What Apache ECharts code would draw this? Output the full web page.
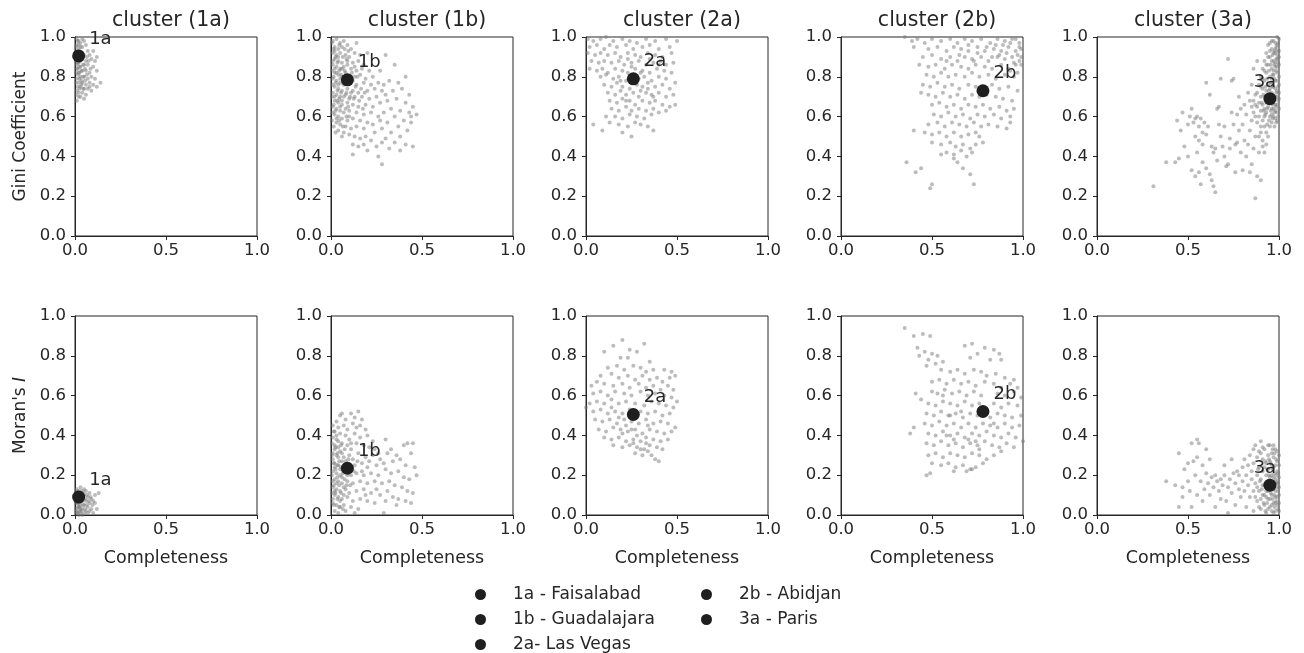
<!DOCTYPE html>
<html>
<head>
<meta charset="utf-8">
<script src="https://cdn.jsdelivr.net/npm/echarts@6/dist/echarts.min.js"></script>
<style>
  html, body { margin: 0; padding: 0; background: #fff; }
  #chart { width: 1304px; height: 653px; }
</style>
</head>
<body>
<div id="chart"></div>
<script>
// clusters and the highlighted city of each one
const clusters = ['1a', '1b', '2a', '2b', '3a']
const cityNames = ['1a - Faisalabad', '1b - Guadalajara', '2a- Las Vegas', '2b - Abidjan', '3a - Paris']
const cityCompleteness = [0.02, 0.09, 0.26, 0.78, 0.95]
const cityGini = [0.905, 0.785, 0.79, 0.73, 0.69]
const cityMoran = [0.09, 0.235, 0.505, 0.52, 0.15]

const xTicks = [0, 0.5, 1]
const yTicks = [0, 0.2, 0.4, 0.6, 0.8, 1]

// [completeness, gini] of the other cities in each cluster
const gini1a = [[0.01,0.99],[0.02,0.98],[0.03,0.97],[0.05,0.98],[0.01,0.96],[0.04,0.95],[0.06,0.96],[0.02,0.94],[0.07,0.93],[0.1,0.93],[0.03,0.92],[0.05,0.91],[0.08,0.91],[0.12,0.9],[0.01,0.9],[0.04,0.89],[0.06,0.88],[0.09,0.89],[0.11,0.88],[0.02,0.87],[0.05,0.86],[0.07,0.86],[0.1,0.85],[0.03,0.85],[0.01,0.84],[0.04,0.83],[0.06,0.83],[0.08,0.82],[0.12,0.83],[0.02,0.82],[0.03,0.8],[0.05,0.8],[0.07,0.79],[0.09,0.8],[0.11,0.79],[0.14,0.77],[0.01,0.79],[0.02,0.77],[0.04,0.77],[0.06,0.76],[0.08,0.77],[0.1,0.76],[0.12,0.75],[0.03,0.75],[0.05,0.74],[0.07,0.74],[0.09,0.73],[0.01,0.73],[0.02,0.72],[0.04,0.72],[0.06,0.71],[0.03,0.7],[0.05,0.69],[0.01,0.68],[0.02,0.7],[0.08,0.75],[0.01,0.86],[0.02,0.91],[0.03,0.88],[0.015,0.81],[0.025,0.79],[0.035,0.83],[0.045,0.86],[0.015,0.75],[0.025,0.74],[0.035,0.78],[0.01,0.93],[0.03,0.95],[0.02,0.96],[0.04,0.99],[0.005,0.95],[0.005,0.88],[0.005,0.82],[0.005,0.77],[0.005,0.71],[0.015,0.98],[0.015,0.87],[0.015,0.84],[0.025,0.85],[0.025,0.82],[0.035,0.91],[0.035,0.76],[0.045,0.8],[0.045,0.74],[0.055,0.78],[0.055,0.84],[0.065,0.81],[0.065,0.9],[0.075,0.88],[0.085,0.84]]
const gini1b = [[0.01,0.98],[0.03,0.99],[0.05,0.97],[0.07,0.98],[0.02,0.95],[0.04,0.94],[0.06,0.95],[0.09,0.96],[0.11,0.94],[0.14,0.97],[0.01,0.92],[0.03,0.91],[0.05,0.92],[0.08,0.91],[0.1,0.9],[0.13,0.92],[0.16,0.91],[0.2,0.92],[0.02,0.89],[0.04,0.88],[0.06,0.87],[0.09,0.88],[0.12,0.87],[0.15,0.88],[0.18,0.86],[0.01,0.86],[0.03,0.85],[0.05,0.84],[0.07,0.85],[0.11,0.84],[0.14,0.83],[0.17,0.84],[0.21,0.83],[0.02,0.82],[0.04,0.81],[0.06,0.8],[0.08,0.82],[0.13,0.8],[0.16,0.81],[0.19,0.79],[0.23,0.8],[0.01,0.79],[0.03,0.78],[0.05,0.77],[0.07,0.76],[0.11,0.77],[0.14,0.76],[0.18,0.77],[0.22,0.76],[0.26,0.77],[0.02,0.75],[0.04,0.74],[0.06,0.73],[0.09,0.74],[0.12,0.73],[0.15,0.72],[0.2,0.73],[0.24,0.74],[0.28,0.73],[0.01,0.72],[0.03,0.71],[0.05,0.7],[0.08,0.71],[0.1,0.69],[0.13,0.7],[0.17,0.7],[0.21,0.69],[0.25,0.7],[0.3,0.71],[0.02,0.68],[0.04,0.67],[0.06,0.66],[0.09,0.67],[0.12,0.66],[0.15,0.65],[0.19,0.66],[0.23,0.65],[0.27,0.67],[0.01,0.65],[0.03,0.64],[0.05,0.63],[0.07,0.62],[0.1,0.63],[0.14,0.62],[0.18,0.61],[0.22,0.62],[0.26,0.6],[0.02,0.61],[0.04,0.6],[0.06,0.59],[0.09,0.58],[0.12,0.59],[0.16,0.58],[0.2,0.57],[0.03,0.57],[0.05,0.56],[0.08,0.55],[0.11,0.54],[0.14,0.55],[0.18,0.54],[0.04,0.53],[0.07,0.52],[0.1,0.51],[0.13,0.5],[0.06,0.5],[0.16,0.49],[0.19,0.5],[0.22,0.48],[0.12,0.46],[0.15,0.45],[0.18,0.46],[0.12,0.41],[0.2,0.43],[0.26,0.4],[0.28,0.36],[0.25,0.45],[0.28,0.47],[0.3,0.91],[0.35,0.86],[0.41,0.8],[0.27,0.83],[0.32,0.78],[0.37,0.77],[0.29,0.76],[0.34,0.73],[0.39,0.74],[0.43,0.71],[0.31,0.68],[0.36,0.69],[0.41,0.67],[0.45,0.65],[0.47,0.61],[0.33,0.64],[0.38,0.63],[0.43,0.62],[0.29,0.62],[0.35,0.6],[0.4,0.58],[0.44,0.57],[0.31,0.57],[0.37,0.55],[0.42,0.53],[0.28,0.54],[0.33,0.52],[0.38,0.5],[0.3,0.49],[0.35,0.47],[0.41,0.46],[0.45,0.45],[0.24,0.52],[0.27,0.58],[0.23,0.56],[0.32,0.44],[0.38,0.43],[0.44,0.6],[0.01,0.88],[0.02,0.84],[0.01,0.76],[0.02,0.7],[0.01,0.62],[0.03,0.59],[0.02,0.93],[0.04,0.9],[0.03,0.82],[0.05,0.79],[0.04,0.76],[0.06,0.84],[0.07,0.8],[0.08,0.78],[0.07,0.7],[0.06,0.68],[0.05,0.65],[0.08,0.64],[0.1,0.6],[0.09,0.86],[0.1,0.8],[0.11,0.72],[0.12,0.78],[0.13,0.85],[0.005,0.97],[0.015,0.94],[0.025,0.9],[0.035,0.87],[0.045,0.83],[0.055,0.81],[0.015,0.8],[0.025,0.77],[0.035,0.73],[0.045,0.69],[0.015,0.66],[0.025,0.63],[0.035,0.68],[0.055,0.72],[0.065,0.77],[0.075,0.83],[0.085,0.89],[0.095,0.93],[0.065,0.9],[0.075,0.94],[0.045,0.96],[0.085,0.72],[0.095,0.65],[0.105,0.7],[0.115,0.82],[0.125,0.69],[0.135,0.75],[0.145,0.8],[0.155,0.68],[0.165,0.74],[0.175,0.64],[0.185,0.72],[0.005,0.83],[0.005,0.7],[0.005,0.58],[0.015,0.55],[0.025,0.52],[0.045,0.58],[0.065,0.55],[0.085,0.6]]
const gini2a = [[0.01,0.99],[0.04,0.98],[0.08,0.99],[0.11,1.0],[0.15,0.98],[0.2,0.99],[0.24,0.98],[0.28,0.97],[0.33,0.99],[0.38,0.98],[0.44,0.99],[0.5,0.98],[0.02,0.95],[0.06,0.96],[0.1,0.94],[0.13,0.96],[0.17,0.95],[0.22,0.96],[0.26,0.94],[0.31,0.95],[0.35,0.96],[0.4,0.94],[0.46,0.95],[0.01,0.92],[0.05,0.91],[0.08,0.92],[0.12,0.91],[0.16,0.92],[0.19,0.9],[0.23,0.92],[0.27,0.91],[0.3,0.9],[0.34,0.92],[0.38,0.91],[0.42,0.9],[0.47,0.92],[0.03,0.88],[0.07,0.87],[0.1,0.88],[0.14,0.87],[0.18,0.88],[0.21,0.86],[0.25,0.87],[0.29,0.88],[0.33,0.86],[0.37,0.87],[0.41,0.88],[0.44,0.86],[0.48,0.87],[0.02,0.84],[0.06,0.83],[0.09,0.84],[0.12,0.82],[0.16,0.84],[0.2,0.83],[0.23,0.82],[0.27,0.84],[0.31,0.83],[0.35,0.82],[0.39,0.84],[0.43,0.83],[0.47,0.82],[0.08,0.8],[0.11,0.81],[0.15,0.79],[0.18,0.8],[0.22,0.78],[0.29,0.79],[0.32,0.8],[0.36,0.78],[0.4,0.8],[0.44,0.79],[0.49,0.77],[0.1,0.76],[0.14,0.75],[0.17,0.77],[0.2,0.75],[0.24,0.74],[0.28,0.76],[0.31,0.75],[0.34,0.77],[0.38,0.75],[0.42,0.76],[0.46,0.74],[0.12,0.72],[0.16,0.71],[0.19,0.73],[0.22,0.71],[0.26,0.72],[0.29,0.7],[0.33,0.72],[0.36,0.71],[0.4,0.72],[0.44,0.7],[0.48,0.71],[0.13,0.68],[0.17,0.67],[0.2,0.69],[0.24,0.68],[0.27,0.66],[0.31,0.68],[0.35,0.67],[0.38,0.68],[0.42,0.66],[0.46,0.65],[0.49,0.66],[0.14,0.64],[0.18,0.63],[0.22,0.65],[0.25,0.63],[0.29,0.64],[0.33,0.63],[0.37,0.64],[0.4,0.62],[0.44,0.63],[0.16,0.6],[0.2,0.59],[0.24,0.61],[0.28,0.6],[0.32,0.59],[0.36,0.61],[0.11,0.6],[0.04,0.56],[0.09,0.53],[0.13,0.57],[0.18,0.56],[0.2,0.52],[0.23,0.55],[0.25,0.5],[0.27,0.57],[0.3,0.56],[0.34,0.55],[0.37,0.53],[0.25,0.85],[0.3,0.82],[0.34,0.74],[0.37,0.7],[0.22,0.68],[0.19,0.78],[0.26,0.8],[0.3,0.73],[0.35,0.89],[0.4,0.86],[0.23,0.89],[0.27,0.78]]
const gini2b = [[0.35,1.0],[0.39,0.98],[0.42,0.99],[0.46,0.97],[0.5,0.99],[0.55,0.98],[0.6,0.99],[0.64,0.97],[0.68,0.99],[0.72,0.98],[0.77,0.99],[0.82,0.97],[0.86,0.99],[0.9,0.98],[0.94,0.99],[0.98,0.97],[0.4,0.95],[0.48,0.94],[0.53,0.95],[0.58,0.93],[0.62,0.95],[0.66,0.94],[0.7,0.93],[0.75,0.95],[0.79,0.93],[0.84,0.94],[0.88,0.93],[0.92,0.95],[0.96,0.93],[0.99,0.94],[0.45,0.9],[0.5,0.91],[0.55,0.89],[0.6,0.9],[0.64,0.88],[0.68,0.9],[0.72,0.89],[0.77,0.9],[0.81,0.88],[0.86,0.9],[0.9,0.89],[0.94,0.9],[0.98,0.88],[0.43,0.86],[0.48,0.85],[0.52,0.86],[0.57,0.84],[0.61,0.86],[0.66,0.85],[0.7,0.84],[0.74,0.86],[0.79,0.85],[0.83,0.84],[0.88,0.86],[0.92,0.84],[0.96,0.86],[0.47,0.81],[0.51,0.8],[0.55,0.82],[0.59,0.8],[0.63,0.81],[0.68,0.8],[0.72,0.82],[0.76,0.8],[0.81,0.81],[0.85,0.79],[0.9,0.81],[0.95,0.8],[0.45,0.76],[0.49,0.75],[0.53,0.77],[0.57,0.75],[0.61,0.76],[0.65,0.74],[0.7,0.76],[0.74,0.75],[0.83,0.76],[0.87,0.74],[0.92,0.75],[0.97,0.73],[0.44,0.72],[0.48,0.71],[0.52,0.7],[0.56,0.72],[0.6,0.7],[0.64,0.71],[0.68,0.69],[0.72,0.71],[0.76,0.7],[0.8,0.71],[0.85,0.7],[0.89,0.69],[0.94,0.68],[0.5,0.66],[0.54,0.67],[0.58,0.65],[0.62,0.66],[0.66,0.64],[0.7,0.66],[0.74,0.65],[0.78,0.66],[0.82,0.64],[0.87,0.65],[0.91,0.63],[0.95,0.64],[0.51,0.61],[0.55,0.6],[0.59,0.62],[0.63,0.6],[0.67,0.61],[0.71,0.59],[0.75,0.61],[0.79,0.6],[0.84,0.61],[0.88,0.59],[0.93,0.6],[0.48,0.56],[0.53,0.57],[0.57,0.55],[0.61,0.57],[0.65,0.56],[0.69,0.55],[0.73,0.57],[0.77,0.55],[0.81,0.56],[0.86,0.55],[0.91,0.54],[0.93,0.57],[0.46,0.52],[0.5,0.51],[0.54,0.52],[0.58,0.5],[0.62,0.52],[0.66,0.5],[0.7,0.51],[0.74,0.52],[0.76,0.5],[0.4,0.53],[0.5,0.47],[0.55,0.46],[0.6,0.47],[0.63,0.45],[0.67,0.46],[0.71,0.44],[0.74,0.46],[0.58,0.42],[0.62,0.41],[0.66,0.43],[0.69,0.4],[0.72,0.42],[0.78,0.47],[0.36,0.37],[0.41,0.32],[0.44,0.34],[0.49,0.24],[0.5,0.26],[0.62,0.39],[0.67,0.34],[0.71,0.31],[0.73,0.26],[0.55,0.41],[0.64,0.37],[0.96,0.99],[0.98,0.95],[0.97,0.91],[0.99,0.9],[0.93,0.97],[0.91,0.92],[0.89,0.96],[0.87,0.91],[0.95,0.87],[0.99,0.86],[0.93,0.83],[0.97,0.82],[0.85,0.96],[0.8,0.95],[0.83,0.9],[0.75,0.92],[0.7,0.96],[0.73,0.88],[0.65,0.91],[0.58,0.88]]
const gini3a = [[0.31,0.25],[0.38,0.37],[0.43,0.37],[0.45,0.39],[0.44,0.58],[0.46,0.53],[0.48,0.45],[0.5,0.4],[0.51,0.6],[0.52,0.64],[0.53,0.57],[0.54,0.59],[0.55,0.6],[0.56,0.55],[0.57,0.59],[0.58,0.52],[0.59,0.57],[0.6,0.51],[0.61,0.55],[0.54,0.5],[0.56,0.48],[0.52,0.33],[0.54,0.3],[0.56,0.32],[0.58,0.37],[0.6,0.34],[0.62,0.31],[0.63,0.28],[0.64,0.25],[0.65,0.22],[0.57,0.26],[0.6,0.77],[0.62,0.71],[0.63,0.45],[0.64,0.42],[0.65,0.44],[0.66,0.38],[0.66,0.64],[0.67,0.65],[0.68,0.5],[0.7,0.55],[0.7,0.4],[0.71,0.35],[0.72,0.36],[0.73,0.44],[0.74,0.62],[0.74,0.78],[0.75,0.79],[0.76,0.46],[0.76,0.32],[0.77,0.47],[0.78,0.53],[0.78,0.7],[0.79,0.42],[0.8,0.56],[0.8,0.33],[0.81,0.48],[0.82,0.61],[0.82,0.4],[0.83,0.46],[0.84,0.32],[0.84,0.53],[0.85,0.58],[0.85,0.36],[0.86,0.44],[0.87,0.19],[0.87,0.5],[0.88,0.3],[0.88,0.65],[0.89,0.42],[0.9,0.55],[0.9,0.28],[0.91,0.48],[0.92,0.6],[0.72,0.89],[0.68,0.79],[0.55,0.42],[0.5,0.56],[0.47,0.62],[0.58,0.46],[0.67,0.56],[0.69,0.45],[0.73,0.49],[0.75,0.56],[0.77,0.61],[0.79,0.64],[0.81,0.66],[0.83,0.72],[0.85,0.76],[0.86,0.84],[0.84,0.68],[0.87,0.71],[0.88,0.88],[0.89,0.6],[0.9,0.63],[0.91,0.66],[0.92,0.7],[0.93,0.73],[0.94,0.76],[0.95,0.8],[0.96,0.84],[0.97,0.88],[0.98,0.92],[0.99,0.96],[1.0,0.99],[0.9,0.7],[0.91,0.74],[0.92,0.78],[0.93,0.82],[0.94,0.86],[0.95,0.9],[0.96,0.94],[0.97,0.98],[0.88,0.72],[0.89,0.76],[0.9,0.8],[0.91,0.84],[0.92,0.88],[0.93,0.92],[0.94,0.96],[0.93,0.62],[0.94,0.65],[0.95,0.68],[0.96,0.72],[0.97,0.75],[0.98,0.78],[0.99,0.82],[1.0,0.86],[0.95,0.6],[0.96,0.64],[0.97,0.67],[0.98,0.7],[0.99,0.73],[1.0,0.76],[0.97,0.6],[0.98,0.63],[0.99,0.66],[1.0,0.69],[0.96,0.77],[0.97,0.81],[0.98,0.85],[0.99,0.89],[1.0,0.93],[0.98,0.97],[0.99,1.0],[0.96,0.98],[0.95,0.97],[0.94,0.7],[0.95,0.74],[0.96,0.79],[0.97,0.83],[0.98,0.87],[0.99,0.91],[1.0,0.8],[0.99,0.78],[0.92,0.64],[0.93,0.67],[0.91,0.58],[0.92,0.55],[0.93,0.52],[0.94,0.5],[0.95,0.55],[0.96,0.57],[0.9,0.52],[0.89,0.5],[0.91,0.45],[0.92,0.42],[0.93,0.46],[0.87,0.6],[0.86,0.62],[0.88,0.57],[0.85,0.65],[0.86,0.68],[0.87,0.66],[0.89,0.67],[0.9,0.75],[0.91,0.79],[0.92,0.83],[0.93,0.86],[0.94,0.9],[0.95,0.93],[0.97,0.92],[0.98,0.94],[0.99,0.85],[1.0,0.9],[0.96,0.88],[0.97,0.7],[0.98,0.74],[0.99,0.7],[1.0,0.72],[0.98,0.66],[0.99,0.62],[1.0,0.64],[0.97,0.64],[0.98,0.59],[0.99,0.58],[0.96,0.61],[0.995,0.97],[0.985,0.95],[0.975,0.93],[0.965,0.91],[0.955,0.86],[0.945,0.83],[0.935,0.79],[0.925,0.75],[0.915,0.71],[0.905,0.67],[0.995,0.87],[0.985,0.83],[0.975,0.79],[0.965,0.75],[0.955,0.71],[0.945,0.67],[0.935,0.64],[0.995,0.75],[0.985,0.72],[0.975,0.69],[0.965,0.66],[0.955,0.63],[0.995,0.68],[0.985,0.65],[0.975,0.62],[0.965,0.59],[0.995,0.6],[0.985,0.57],[0.975,0.55],[0.945,0.58],[0.935,0.56],[0.925,0.61],[0.915,0.63],[0.995,0.93],[0.985,0.89],[0.975,0.86],[0.965,0.81],[0.955,0.77],[0.945,0.73],[0.935,0.7]]

// [completeness, moran's I] of the other cities in each cluster
const moran1a = [[0.01,0.13],[0.03,0.14],[0.05,0.13],[0.02,0.12],[0.04,0.11],[0.06,0.12],[0.08,0.11],[0.11,0.1],[0.13,0.11],[0.01,0.1],[0.03,0.09],[0.05,0.1],[0.07,0.09],[0.09,0.08],[0.02,0.08],[0.04,0.07],[0.06,0.07],[0.08,0.06],[0.1,0.07],[0.01,0.06],[0.03,0.05],[0.05,0.05],[0.07,0.04],[0.09,0.03],[0.12,0.03],[0.02,0.04],[0.04,0.03],[0.06,0.02],[0.08,0.02],[0.1,0.01],[0.01,0.02],[0.03,0.01],[0.05,0.01],[0.07,0.01],[0.02,0.0],[0.04,0.0],[0.01,0.08],[0.02,0.06],[0.03,0.03],[0.015,0.11],[0.025,0.1],[0.035,0.07],[0.045,0.05],[0.015,0.04],[0.025,0.02],[0.035,0.12],[0.055,0.08],[0.065,0.05],[0.11,0.06],[0.01,0.01],[0.005,0.12],[0.005,0.07],[0.005,0.03],[0.015,0.09],[0.015,0.06],[0.015,0.01],[0.025,0.07],[0.025,0.04],[0.035,0.1],[0.035,0.02],[0.045,0.08],[0.045,0.11],[0.055,0.03],[0.065,0.1],[0.075,0.07],[0.085,0.09],[0.095,0.05]]
const moran1b = [[0.01,0.45],[0.03,0.47],[0.05,0.5],[0.06,0.51],[0.08,0.48],[0.11,0.51],[0.13,0.49],[0.15,0.52],[0.17,0.48],[0.02,0.42],[0.04,0.44],[0.07,0.45],[0.09,0.43],[0.12,0.46],[0.14,0.44],[0.16,0.45],[0.19,0.43],[0.01,0.39],[0.03,0.38],[0.05,0.41],[0.08,0.4],[0.1,0.38],[0.13,0.41],[0.16,0.39],[0.2,0.4],[0.02,0.35],[0.04,0.34],[0.06,0.36],[0.09,0.35],[0.11,0.33],[0.14,0.36],[0.18,0.35],[0.21,0.34],[0.24,0.33],[0.01,0.31],[0.03,0.3],[0.05,0.32],[0.07,0.29],[0.1,0.3],[0.12,0.28],[0.15,0.31],[0.19,0.29],[0.23,0.3],[0.27,0.28],[0.02,0.26],[0.04,0.25],[0.06,0.27],[0.08,0.24],[0.13,0.25],[0.17,0.26],[0.2,0.24],[0.25,0.25],[0.29,0.26],[0.01,0.22],[0.03,0.21],[0.05,0.2],[0.07,0.22],[0.11,0.2],[0.14,0.21],[0.18,0.2],[0.22,0.21],[0.26,0.2],[0.02,0.18],[0.04,0.17],[0.06,0.16],[0.09,0.17],[0.12,0.16],[0.16,0.17],[0.2,0.16],[0.24,0.17],[0.28,0.16],[0.01,0.14],[0.03,0.13],[0.05,0.12],[0.08,0.13],[0.1,0.11],[0.14,0.12],[0.18,0.13],[0.22,0.11],[0.02,0.1],[0.04,0.09],[0.06,0.08],[0.09,0.09],[0.12,0.07],[0.16,0.08],[0.2,0.07],[0.01,0.06],[0.03,0.05],[0.05,0.04],[0.07,0.05],[0.11,0.04],[0.15,0.03],[0.02,0.02],[0.04,0.01],[0.08,0.02],[0.13,0.01],[0.29,0.01],[0.01,0.28],[0.02,0.24],[0.01,0.17],[0.02,0.12],[0.01,0.08],[0.03,0.16],[0.04,0.29],[0.05,0.23],[0.06,0.19],[0.07,0.14],[0.03,0.4],[0.02,0.33],[0.04,0.37],[0.06,0.31],[0.08,0.27],[0.09,0.2],[0.1,0.25],[0.11,0.36],[0.07,0.1],[0.05,0.07],[0.3,0.38],[0.33,0.33],[0.36,0.3],[0.4,0.35],[0.42,0.36],[0.45,0.36],[0.44,0.31],[0.31,0.31],[0.34,0.27],[0.38,0.28],[0.41,0.25],[0.46,0.24],[0.47,0.2],[0.3,0.23],[0.33,0.21],[0.37,0.22],[0.4,0.19],[0.43,0.18],[0.32,0.17],[0.35,0.15],[0.39,0.14],[0.42,0.12],[0.45,0.11],[0.31,0.12],[0.34,0.09],[0.37,0.08],[0.41,0.07],[0.44,0.06],[0.3,0.07],[0.25,0.13],[0.27,0.1],[0.24,0.06],[0.36,0.05],[0.21,0.27],[0.26,0.31],[0.23,0.37],[0.17,0.22],[0.19,0.1],[0.005,0.3],[0.015,0.26],[0.025,0.23],[0.035,0.19],[0.045,0.15],[0.055,0.11],[0.005,0.2],[0.015,0.15],[0.025,0.11],[0.035,0.08],[0.045,0.04],[0.005,0.11],[0.015,0.05],[0.025,0.34],[0.035,0.31],[0.045,0.27],[0.055,0.24],[0.065,0.21],[0.075,0.18],[0.085,0.15],[0.005,0.36],[0.015,0.42],[0.035,0.25],[0.055,0.35],[0.075,0.33],[0.095,0.28],[0.105,0.15],[0.125,0.22],[0.145,0.27],[0.065,0.03]]
const moran2a = [[0.2,0.88],[0.32,0.86],[0.15,0.85],[0.1,0.82],[0.24,0.83],[0.28,0.82],[0.19,0.79],[0.23,0.79],[0.35,0.77],[0.12,0.74],[0.17,0.75],[0.21,0.73],[0.26,0.75],[0.3,0.74],[0.33,0.72],[0.37,0.73],[0.43,0.73],[0.47,0.72],[0.08,0.7],[0.14,0.71],[0.18,0.69],[0.23,0.7],[0.27,0.68],[0.31,0.7],[0.35,0.68],[0.39,0.69],[0.42,0.67],[0.46,0.69],[0.49,0.7],[0.03,0.65],[0.06,0.67],[0.1,0.66],[0.15,0.65],[0.2,0.66],[0.24,0.64],[0.29,0.66],[0.33,0.64],[0.37,0.65],[0.41,0.63],[0.45,0.65],[0.48,0.63],[0.04,0.61],[0.08,0.62],[0.12,0.6],[0.16,0.62],[0.21,0.61],[0.25,0.6],[0.3,0.62],[0.34,0.6],[0.38,0.61],[0.43,0.6],[0.47,0.59],[0.5,0.57],[0.02,0.56],[0.06,0.57],[0.1,0.56],[0.14,0.58],[0.18,0.56],[0.22,0.57],[0.27,0.56],[0.32,0.55],[0.36,0.57],[0.4,0.56],[0.44,0.55],[0.48,0.54],[0.0,0.54],[0.04,0.52],[0.08,0.53],[0.12,0.51],[0.16,0.52],[0.2,0.51],[0.3,0.52],[0.34,0.51],[0.38,0.52],[0.42,0.5],[0.46,0.51],[0.05,0.48],[0.09,0.47],[0.13,0.48],[0.17,0.46],[0.21,0.48],[0.25,0.47],[0.29,0.46],[0.33,0.48],[0.37,0.46],[0.41,0.47],[0.45,0.46],[0.49,0.44],[0.07,0.43],[0.11,0.42],[0.15,0.44],[0.19,0.43],[0.23,0.42],[0.27,0.43],[0.31,0.41],[0.35,0.43],[0.39,0.42],[0.43,0.41],[0.47,0.42],[0.1,0.39],[0.14,0.38],[0.18,0.39],[0.22,0.37],[0.26,0.38],[0.3,0.37],[0.33,0.39],[0.37,0.38],[0.41,0.37],[0.45,0.38],[0.15,0.35],[0.2,0.34],[0.24,0.35],[0.28,0.34],[0.32,0.33],[0.35,0.35],[0.39,0.34],[0.42,0.33],[0.27,0.31],[0.31,0.3],[0.34,0.32],[0.36,0.3],[0.4,0.27],[0.38,0.28],[0.3,0.33],[0.25,0.43],[0.28,0.4],[0.22,0.45],[0.2,0.41],[0.26,0.36],[0.33,0.36],[0.18,0.49],[0.24,0.53],[0.14,0.54],[0.34,0.45]]
const moran2b = [[0.35,0.94],[0.4,0.9],[0.45,0.91],[0.49,0.9],[0.42,0.84],[0.46,0.82],[0.5,0.81],[0.43,0.8],[0.48,0.78],[0.53,0.8],[0.56,0.77],[0.47,0.75],[0.52,0.76],[0.72,0.86],[0.68,0.85],[0.79,0.84],[0.84,0.83],[0.87,0.81],[0.88,0.78],[0.75,0.81],[0.71,0.79],[0.82,0.78],[0.55,0.73],[0.6,0.72],[0.64,0.73],[0.68,0.71],[0.73,0.73],[0.77,0.72],[0.8,0.7],[0.85,0.71],[0.9,0.69],[0.95,0.68],[0.5,0.67],[0.54,0.68],[0.58,0.66],[0.62,0.68],[0.66,0.66],[0.7,0.67],[0.74,0.65],[0.79,0.67],[0.84,0.66],[0.88,0.64],[0.93,0.66],[0.97,0.64],[0.41,0.61],[0.44,0.58],[0.5,0.62],[0.53,0.61],[0.57,0.63],[0.61,0.61],[0.65,0.62],[0.69,0.6],[0.73,0.62],[0.77,0.6],[0.86,0.61],[0.9,0.6],[0.95,0.62],[0.99,0.59],[0.48,0.56],[0.52,0.55],[0.56,0.57],[0.6,0.56],[0.64,0.55],[0.68,0.57],[0.72,0.55],[0.76,0.56],[0.84,0.56],[0.88,0.54],[0.92,0.56],[0.97,0.55],[0.47,0.51],[0.51,0.5],[0.55,0.52],[0.59,0.5],[0.63,0.51],[0.67,0.49],[0.71,0.51],[0.75,0.5],[0.82,0.49],[0.86,0.51],[0.9,0.5],[0.94,0.49],[0.99,0.5],[0.46,0.46],[0.5,0.45],[0.54,0.47],[0.58,0.45],[0.62,0.46],[0.66,0.44],[0.7,0.46],[0.74,0.44],[0.78,0.46],[0.82,0.45],[0.86,0.44],[0.9,0.46],[0.94,0.44],[0.98,0.45],[0.38,0.41],[0.4,0.44],[0.48,0.41],[0.52,0.4],[0.56,0.42],[0.6,0.4],[0.64,0.41],[0.68,0.39],[0.72,0.41],[0.76,0.4],[0.8,0.42],[0.84,0.4],[0.88,0.39],[0.92,0.41],[0.96,0.39],[1.0,0.37],[0.47,0.36],[0.51,0.35],[0.55,0.37],[0.59,0.35],[0.63,0.36],[0.67,0.34],[0.71,0.36],[0.75,0.35],[0.79,0.37],[0.83,0.35],[0.87,0.34],[0.91,0.36],[0.95,0.34],[0.48,0.3],[0.52,0.31],[0.56,0.29],[0.6,0.31],[0.64,0.3],[0.68,0.29],[0.72,0.31],[0.76,0.3],[0.8,0.28],[0.84,0.3],[0.88,0.32],[0.5,0.26],[0.55,0.25],[0.59,0.26],[0.63,0.24],[0.67,0.25],[0.71,0.23],[0.74,0.24],[0.78,0.26],[0.47,0.2],[0.49,0.21],[0.62,0.22],[0.69,0.22],[0.72,0.23],[0.6,0.5],[0.58,0.4],[0.62,0.38],[0.7,0.38],[0.74,0.37],[0.76,0.33],[0.66,0.52],[0.56,0.6],[0.8,0.52],[0.84,0.46]]
const moran3a = [[0.38,0.17],[0.43,0.15],[0.45,0.31],[0.45,0.04],[0.47,0.09],[0.47,0.14],[0.48,0.23],[0.5,0.17],[0.5,0.26],[0.51,0.12],[0.52,0.36],[0.52,0.04],[0.53,0.27],[0.54,0.2],[0.55,0.38],[0.55,0.29],[0.55,0.1],[0.56,0.36],[0.57,0.17],[0.58,0.25],[0.58,0.07],[0.59,0.13],[0.6,0.33],[0.6,0.21],[0.61,0.16],[0.62,0.28],[0.62,0.1],[0.63,0.19],[0.64,0.14],[0.65,0.04],[0.65,0.2],[0.66,0.17],[0.67,0.12],[0.68,0.18],[0.68,0.08],[0.69,0.15],[0.7,0.2],[0.7,0.25],[0.71,0.07],[0.72,0.14],[0.72,0.01],[0.73,0.18],[0.74,0.28],[0.74,0.11],[0.75,0.21],[0.76,0.16],[0.76,0.05],[0.77,0.22],[0.78,0.13],[0.78,0.2],[0.79,0.09],[0.8,0.24],[0.8,0.17],[0.81,0.12],[0.81,0.28],[0.82,0.2],[0.82,0.04],[0.83,0.15],[0.83,0.25],[0.84,0.09],[0.84,0.3],[0.85,0.18],[0.85,0.22],[0.86,0.12],[0.86,0.26],[0.86,0.02],[0.87,0.35],[0.87,0.16],[0.88,0.2],[0.88,0.29],[0.88,0.07],[0.89,0.24],[0.89,0.12],[0.9,0.37],[0.9,0.18],[0.9,0.31],[0.9,0.03],[0.91,0.22],[0.91,0.1],[0.91,0.28],[0.92,0.15],[0.92,0.33],[0.92,0.05],[0.93,0.2],[0.93,0.26],[0.93,0.12],[0.93,0.01],[0.94,0.3],[0.94,0.17],[0.94,0.08],[0.94,0.23],[0.95,0.35],[0.95,0.13],[0.95,0.04],[0.95,0.27],[0.96,0.2],[0.96,0.1],[0.96,0.31],[0.96,0.16],[0.97,0.24],[0.97,0.06],[0.97,0.13],[0.97,0.29],[0.98,0.18],[0.98,0.02],[0.98,0.09],[0.98,0.33],[0.99,0.22],[0.99,0.14],[0.99,0.05],[0.99,0.27],[1.0,0.1],[1.0,0.19],[1.0,0.3],[1.0,0.02],[0.92,0.24],[0.93,0.09],[0.94,0.03],[0.95,0.19],[0.96,0.05],[0.97,0.01],[0.98,0.12],[0.99,0.09],[0.99,0.17],[1.0,0.06],[1.0,0.14],[0.97,0.19],[0.96,0.25],[0.95,0.08],[0.94,0.12],[0.93,0.16],[0.92,0.1],[0.91,0.15],[0.9,0.08],[0.89,0.04],[0.88,0.14],[0.87,0.09],[0.96,0.02],[0.98,0.06],[1.0,0.25],[0.98,0.25],[0.97,0.35],[0.99,0.32],[0.94,0.35],[0.91,0.34],[0.89,0.32],[0.86,0.33],[0.995,0.03],[0.985,0.07],[0.975,0.1],[0.965,0.13],[0.955,0.16],[0.945,0.2],[0.935,0.23],[0.925,0.27],[0.995,0.12],[0.985,0.16],[0.975,0.21],[0.965,0.23],[0.955,0.26],[0.945,0.28],[0.995,0.21],[0.985,0.28],[0.975,0.31],[0.965,0.33],[0.995,0.16],[0.985,0.2],[0.975,0.04],[0.965,0.08],[0.955,0.11],[0.945,0.15],[0.935,0.06],[0.925,0.02],[0.915,0.06],[0.905,0.13],[0.895,0.17],[0.885,0.23]]

const giniPoints = [gini1a, gini1b, gini2a, gini2b, gini3a]
const moranPoints = [moran1a, moran1b, moran2a, moran2b, moran3a]

const ink = '#262626'
const font = 'DejaVu Sans'
const lefts = [75, 331, 586, 841, 1097]
const tops = [37, 316]
const cellW = 182
const cellH = 199

const myChart = echarts.init(document.getElementById('chart'))

let grid = []
let xAxis = []
let yAxis = []
let series = []
let title = []

clusters.forEach((c, col) => {
  title.push({
    text: 'cluster (' + c + ')',
    left: lefts[col] + cellW / 2,
    top: 5,
    textAlign: 'center',
    textStyle: { fontFamily: font, fontSize: 20.5, fontWeight: 'normal', color: ink },
  })
})

for (let row = 0; row < 2; row++) {
  clusters.forEach((c, col) => {
    const idx = row * 5 + col
    grid.push({
      left: lefts[col],
      top: tops[row],
      width: cellW,
      height: cellH,
      show: true,
      borderColor: ink,
      borderWidth: 1,
    })
    xAxis.push({
      gridIndex: idx,
      type: 'value',
      min: xTicks[0],
      max: xTicks[xTicks.length - 1],
      interval: xTicks[1] - xTicks[0],
      name: row === 1 ? 'Completeness' : '',
      nameLocation: 'middle',
      nameGap: 34,
      nameTextStyle: { fontFamily: font, fontSize: 17.5, color: ink },
      splitLine: { show: false },
      axisLine: { show: true, lineStyle: { color: ink } },
      axisTick: { show: true, length: 4, lineStyle: { color: ink } },
      axisLabel: {
        fontFamily: font, fontSize: 16.5, color: ink, margin: 6,
        formatter: (v) => v.toFixed(1),
      },
    })
    let yName = ''
    if (col === 0) yName = row === 0 ? 'Gini Coefficient' : "Moran's {it|I}"
    yAxis.push({
      gridIndex: idx,
      type: 'value',
      min: yTicks[0],
      max: yTicks[yTicks.length - 1],
      interval: yTicks[1] - yTicks[0],
      name: yName,
      nameLocation: 'middle',
      nameGap: 46,
      nameTextStyle: {
        fontFamily: font, fontSize: 17, color: ink,
        rich: { it: { fontFamily: font, fontSize: 17, fontStyle: 'italic', color: ink } },
      },
      splitLine: { show: false },
      axisLine: { show: true, lineStyle: { color: ink } },
      axisTick: { show: true, length: 4, lineStyle: { color: ink } },
      axisLabel: {
        fontFamily: font, fontSize: 16.5, color: ink, margin: 9,
        formatter: (v) => v.toFixed(1),
      },
    })

    const pts = row === 0 ? giniPoints[col] : moranPoints[col]
    series.push({
      type: 'scatter',
      xAxisIndex: idx,
      yAxisIndex: idx,
      data: pts,
      symbolSize: 4,
      silent: true,
      itemStyle: { color: '#7a7a7a', opacity: 0.5 },
      z: 2,
    })

    const cityY = row === 0 ? cityGini[col] : cityMoran[col]
    const lastCol = col === clusters.length - 1
    series.push({
      type: 'scatter',
      name: cityNames[col],
      xAxisIndex: idx,
      yAxisIndex: idx,
      data: [[cityCompleteness[col], cityY]],
      symbolSize: 13,
      clip: false,
      itemStyle: { color: '#1f1f1f', opacity: 1 },
      label: {
        show: true,
        formatter: c,
        position: lastCol ? 'top' : 'right',
        distance: lastCol ? 1 : 4,
        offset: lastCol ? [-5, 0] : [0, -17],
        fontFamily: font,
        fontSize: 18,
        color: ink,
      },
      z: 5,
    })
  })
}

const legendCommon = {
  orient: 'vertical',
  icon: 'circle',
  itemWidth: 11,
  itemHeight: 11,
  itemGap: 8,
  padding: 0,
  height: 80,
  selectedMode: false,
  textStyle: { fontFamily: font, fontSize: 17, color: ink, lineHeight: 17, padding: [0, 0, 0, 22] },
}

const option = {
  animation: false,
  backgroundColor: '#fff',
  title: title,
  grid: grid,
  xAxis: xAxis,
  yAxis: yAxis,
  series: series,
  legend: [
    Object.assign({ left: 475, top: 586, data: cityNames.slice(0, 3) }, legendCommon),
    Object.assign({ left: 701, top: 586, data: cityNames.slice(3) }, legendCommon),
  ],
}
myChart.setOption(option)
</script>
</body>
</html>
